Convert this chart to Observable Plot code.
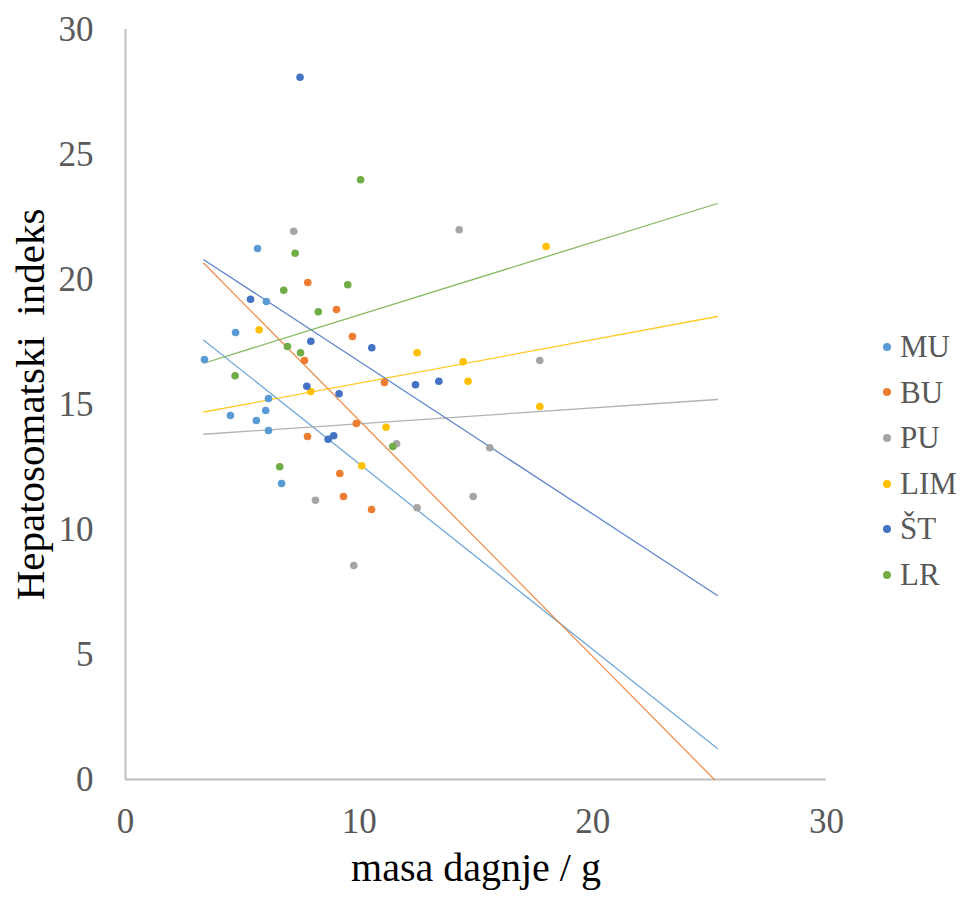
<!DOCTYPE html>
<html>
<head>
<meta charset="utf-8">
<script src="https://cdn.jsdelivr.net/npm/d3@7"></script>
<script src="https://cdn.jsdelivr.net/npm/@observablehq/plot@0.6"></script>
<style>
  html, body { margin: 0; padding: 0; background: #fff; }
  #wrap { position: relative; width: 970px; height: 899px; }
  #legend { position: absolute; left: 883px; top: 324px; font-family: "Liberation Serif", "Times New Roman", serif; font-size: 31px; color: #595959; }
  #legend .item { height: 45.6px; line-height: 45.6px; display: flex; align-items: center; white-space: nowrap; }
  #legend .sw { width: 8px; height: 8px; border-radius: 50%; margin-right: 9px; }
</style>
</head>
<body>
<div id="wrap"><div id="legend"></div></div>
<script>
// Series names and colours
const seriesNames = ["MU", "BU", "PU", "LIM", "ŠT", "LR"];
const seriesColors = ["#5B9BD5", "#ED7D31", "#A5A5A5", "#FFC000", "#4472C4", "#70AD47"];

// Points (mass in g, hepatosomatic index)
const muX  = [3.38, 4.71, 5.65, 6.03, 4.49, 5.60, 6.00, 6.12, 6.12, 6.68];
const muY  = [16.80, 17.88, 21.24, 19.12, 14.56, 14.36, 14.76, 15.24, 13.96, 11.84];
const buX  = [7.80, 9.03, 9.71, 7.66, 11.08, 9.88, 7.79, 9.17, 9.33, 10.53];
const buY  = [19.88, 18.80, 17.72, 16.76, 15.88, 14.24, 13.72, 12.24, 11.32, 10.80];
const puX  = [7.20, 14.28, 17.73, 11.60, 15.59, 14.88, 12.48, 8.13, 9.77];
const puY  = [21.93, 21.99, 16.76, 13.43, 13.27, 11.32, 10.87, 11.17, 8.56];
const limX = [5.72, 7.93, 18.00, 12.48, 14.45, 14.66, 17.73, 11.15, 10.11];
const limY = [17.99, 15.52, 21.32, 17.07, 16.71, 15.93, 14.92, 14.09, 12.55];
const stX  = [7.47, 5.35, 7.93, 10.54, 7.76, 9.14, 12.41, 13.41, 8.67, 8.91];
const stY  = [28.09, 19.21, 17.53, 17.27, 15.73, 15.43, 15.79, 15.93, 13.61, 13.75];
const lrX  = [10.06, 7.26, 6.77, 9.51, 8.25, 6.93, 7.49, 4.69, 6.60, 11.44];
const lrY  = [23.99, 21.05, 19.57, 19.79, 18.71, 17.32, 17.07, 16.15, 12.51, 13.32];

// Linear trend lines (start x, start y, end x, end y) per series
const trendStartX = [3.35, 3.35, 3.35, 3.35, 3.35, 3.35];
const trendStartY = [17.57, 20.65, 13.81, 14.70, 20.79, 16.65];
const trendEndX   = [25.33, 25.20, 25.33, 25.33, 25.33, 25.33];
const trendEndY   = [1.24, 0.00, 15.20, 18.52, 7.36, 23.04];

// Axis ticks
const xTicks = [0, 10, 20, 30];
const yTicks = [0, 5, 10, 15, 20, 25, 30];

const xs = [muX, buX, puX, limX, stX, lrX];
const ys = [muY, buY, puY, limY, stY, lrY];
const points = [];
seriesNames.forEach((s, i) => xs[i].forEach((x, j) => points.push({series: s, x, y: ys[i][j]})));
const trends = [];
seriesNames.forEach((s, i) => {
  trends.push({series: s, x: trendStartX[i], y: trendStartY[i]});
  trends.push({series: s, x: trendEndX[i], y: trendEndY[i]});
});

const colorScale = {domain: seriesNames, range: seriesColors};
const tickFont = 35;

const chart = Plot.plot({
  width: 970,
  height: 899,
  marginLeft: 125,
  marginRight: 144,
  marginTop: 29,
  marginBottom: 120,
  style: {fontFamily: "'Liberation Serif', 'Times New Roman', serif", background: "#fff", overflow: "visible"},
  x: {domain: [0, 30]},
  y: {domain: [0, 30]},
  color: colorScale,
  marks: [
    Plot.ruleX([0], {stroke: "#bfbfbf", strokeWidth: 2}),
    Plot.ruleY([0], {stroke: "#bfbfbf", strokeWidth: 2}),
    Plot.axisY({ticks: yTicks, tickSize: 0, tickPadding: 32, fontSize: tickFont, fill: "#595959", label: null}),
    Plot.axisX({ticks: xTicks, tickSize: 0, tickPadding: 29, fontSize: tickFont, fill: "#595959", label: null}),
    Plot.line(trends, {x: "x", y: "y", z: "series", stroke: "series", strokeWidth: 1.3, strokeOpacity: 0.85}),
    Plot.dot(points, {x: "x", y: "y", fill: "series", r: 3.8}),
    Plot.text(["Hepatosomatski  indeks"], {frameAnchor: "left", dx: -95, rotate: -90, fontSize: 41, fill: "#000", textAnchor: "middle"}),
    Plot.text(["masa dagnje / g"], {frameAnchor: "bottom", dy: 101, fontSize: 40, fill: "#000", textAnchor: "middle"})
  ]
});
document.getElementById("wrap").prepend(chart);

const legend = document.getElementById("legend");
seriesNames.forEach((s, i) => {
  const item = document.createElement("div");
  item.className = "item";
  const sw = document.createElement("span");
  sw.className = "sw";
  sw.style.background = seriesColors[i];
  const t = document.createElement("span");
  t.textContent = s;
  item.append(sw, t);
  legend.append(item);
});
</script>
</body>
</html>
